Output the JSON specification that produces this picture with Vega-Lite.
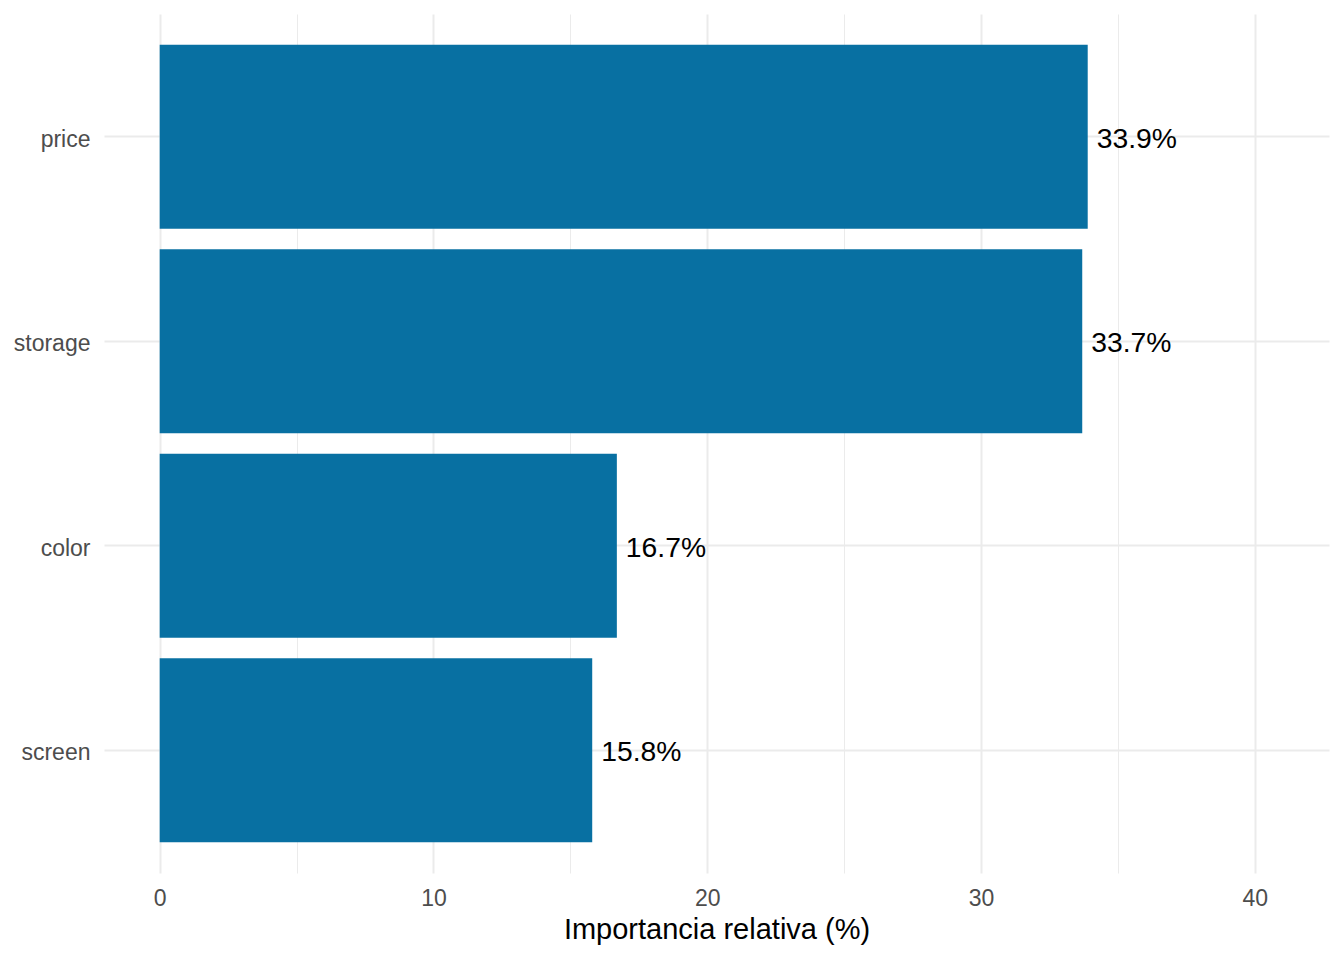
{
  "$schema": "https://vega.github.io/schema/vega-lite/v6.json",
  "width": 1225,
  "height": 859,
  "autosize": {"type": "none"},
  "padding": {"left": 104, "top": 14, "right": 15, "bottom": 87},
  "background": "white",
  "data": {
    "values": [
      {"attribute": "price", "importance": 33.9, "label": "33.9%"},
      {"attribute": "storage", "importance": 33.7, "label": "33.7%"},
      {"attribute": "color", "importance": 16.7, "label": "16.7%"},
      {"attribute": "screen", "importance": 15.8, "label": "15.8%"}
    ]
  },
  "encoding": {
    "y": {
      "field": "attribute",
      "type": "nominal",
      "sort": ["price", "storage", "color", "screen"],
      "scale": {"paddingInner": 0.1, "paddingOuter": 0.15},
      "axis": {
        "title": null,
        "ticks": false,
        "domain": false,
        "grid": true,
        "bandPosition": 0.5,
        "gridColor": "#EBEBEB",
        "gridWidth": 2,
        "labelFont": "Liberation Sans",
        "labelFontSize": 23,
        "labelColor": "#4D4D4D",
        "labelPadding": 14,
        "labelOffset": 3
      }
    },
    "x": {
      "field": "importance",
      "type": "quantitative",
      "scale": {"domain": [-2.034, 42.714], "nice": false, "zero": false},
      "axis": {
        "title": "Importancia relativa (%)",
        "values": [0, 5, 10, 15, 20, 25, 30, 35, 40],
        "labelExpr": "datum.value % 10 === 0 ? datum.label : ''",
        "ticks": false,
        "domain": false,
        "grid": true,
        "gridColor": "#EBEBEB",
        "gridWidth": {"condition": {"test": "datum.value % 10 === 0", "value": 2}, "value": 1},
        "labelFont": "Liberation Sans",
        "labelFontSize": 23,
        "labelColor": "#4D4D4D",
        "labelPadding": 14,
        "titleFont": "Liberation Sans",
        "titleFontSize": 29,
        "titleFontWeight": "normal",
        "titleColor": "#000000",
        "titlePadding": 5
      }
    }
  },
  "layer": [
    {
      "mark": {"type": "bar", "color": "#0870A2"}
    },
    {
      "mark": {
        "type": "text",
        "align": "left",
        "baseline": "middle",
        "dx": 9,
        "dy": 3,
        "font": "Liberation Sans",
        "fontSize": 28.3,
        "color": "#000000"
      },
      "encoding": {"text": {"field": "label"}}
    }
  ],
  "config": {
    "view": {"stroke": null}
  }
}
